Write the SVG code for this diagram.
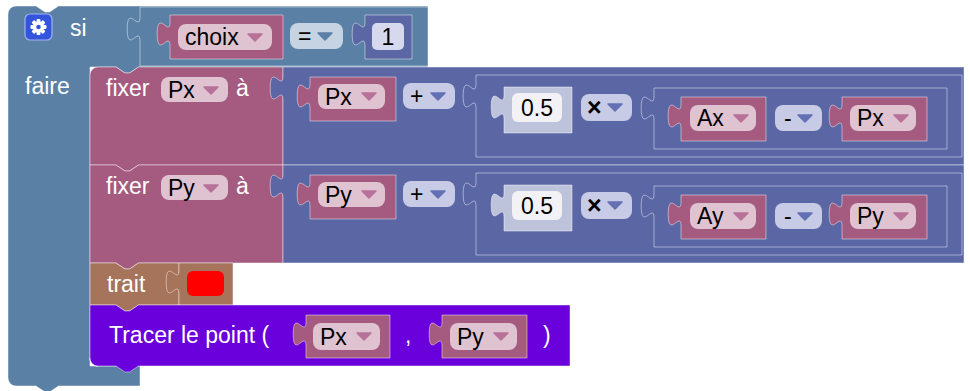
<svg xmlns="http://www.w3.org/2000/svg" width="970" height="391" viewBox="0 0 970 391">
<style>
.lg{fill:#5b80a5}.vr{fill:#a55b80}.mt{fill:#5b67a5}.sh{fill:#bec3dc}.br{fill:#a5745b}.pu{fill:#6a00dc}
.hl{stroke:#ffffff;stroke-opacity:.45;stroke-width:1}
.lbl{font-family:"Liberation Sans",Arial,sans-serif;font-size:23px;fill:#ffffff}
.ft{font-family:"Liberation Sans",Arial,sans-serif;font-size:23px;fill:#000000}
.mx{font-size:25px;font-weight:bold}
.pv{fill:#e0c3d1}.pm{fill:#c7cbe6}.pl{fill:#c6d3e3}.nf{fill:#d6d9ee}.sf{fill:#f2f2f6}
.av{fill:#b8729a;stroke:#b8729a}.am{fill:#6470b4;stroke:#6470b4}.al{fill:#5b80a5;stroke:#5b80a5}
.ar{stroke-width:1.5;stroke-linejoin:round}
</style>
<defs>
<polygon id="arr" points="0,0 14,0 7,7"/>
</defs>
<g id="connectors"></g>

<g id="si">
<path class="lg hl" d="M8,14 A8,8 0 0 1 16,6 H36 l9,6 h4.5 l9,-6 H428 V67 H138.5 l-9,6 h-4.5 l-9,-6 H90 V366 H140 V386 H58.5 l-9,6 h-4.5 l-9,-6 H16 A8,8 0 0 1 8,378 Z"/>
<rect x="25" y="14" width="27" height="26" rx="5" fill="#3355dd" stroke="#9fb2f2" stroke-width="1.2"/>
<g transform="translate(38.5,27)" fill="#ffffff">
<rect x="-1.9" y="-8" width="3.8" height="16" rx="0.8"/>
<rect x="-1.9" y="-8" width="3.8" height="16" rx="0.8" transform="rotate(45)"/>
<rect x="-1.9" y="-8" width="3.8" height="16" rx="0.8" transform="rotate(90)"/>
<rect x="-1.9" y="-8" width="3.8" height="16" rx="0.8" transform="rotate(135)"/>
<circle r="5.8"/>
<circle r="2.3" fill="#3355dd"/>
</g>
<text class="lbl" x="70" y="36">si</text>
<text class="lbl" x="25" y="94">faire</text>
<path d="M90,358 A8,8 0 0 0 98,366" fill="none" stroke="#ffffff" stroke-opacity=".8" stroke-width="1.5"/>
</g>

<g id="compare">
<path class="lg hl" d="M140,7 H428 V66 H140 V41 c0,-16 -12.8,13.6 -12.8,-12 s12.8,4 12.8,-12 Z"/>
<rect class="pl" x="290" y="23" width="53" height="26" rx="8"/>
<text class="ft" x="298" y="44">=</text>
<use href="#arr" x="318" y="33" class="al ar"/>
</g>
<g id="choix">
<path class="vr hl" d="M170,15 H283 V59 H170 V46 c0,-16 -12.8,13.6 -12.8,-12 s12.8,4 12.8,-12 Z"/>
<rect class="pv" x="178" y="24" width="94" height="26" rx="8"/>
<text class="ft" x="185" y="45">choix</text>
<use href="#arr" x="248" y="34" class="av ar"/>
</g>
<g id="num1">
<path class="mt hl" d="M365,15 H412 V59 H365 V46 c0,-16 -12.8,13.6 -12.8,-12 s12.8,4 12.8,-12 Z"/>
<rect class="nf" x="372" y="23" width="32" height="27" rx="5"/>
<text class="ft" x="388" y="45" text-anchor="middle">1</text>
</g>

<g id="fixerPx">
<path class="vr hl" d="M90,75 A8,8 0 0 1 98,67 H116 l9,6 h4.5 l9,-6 H283 V165 H138.5 l-9,6 h-4.5 l-9,-6 H90 Z"/>
<text class="lbl" x="106" y="96">fixer</text>
<rect class="pv" x="161" y="77" width="67" height="25" rx="8"/>
<text class="ft" x="168" y="98">Px</text>
<use href="#arr" x="204" y="87" class="av ar"/>
<text class="lbl" x="236" y="96">à</text>
</g>
<g id="addPx">
<path class="mt hl" d="M283,67 H964 V165 H283 V100 c0,-16 -12.8,13.6 -12.8,-12 s12.8,4 12.8,-12 Z"/>
<rect class="pm" x="403" y="83" width="52" height="26" rx="8"/>
<text class="ft" x="410" y="104">+</text>
<use href="#arr" x="431" y="93" class="am ar"/>
</g>
<g id="getPx1">
<path class="vr hl" d="M310,77 H396 V121 H310 V108 c0,-16 -12.8,13.6 -12.8,-12 s12.8,4 12.8,-12 Z"/>
<rect class="pv" x="318" y="84" width="67" height="25" rx="8"/>
<text class="ft" x="325" y="105">Px</text>
<use href="#arr" x="362" y="93" class="av ar"/>
</g>
<g id="mulPx">
<path class="mt hl" d="M476,75 H962 V157 H476 V108 c0,-16 -12.8,13.6 -12.8,-12 s12.8,4 12.8,-12 Z"/>
<rect class="pm" x="581" y="94" width="51" height="27" rx="8"/>
<text class="ft mx" x="587" y="116">×</text>
<use href="#arr" x="608" y="104" class="am ar"/>
</g>
<g id="halfPx">
<path class="sh hl" d="M504,87 H572 V133 H504 V119 c0,-16 -12.8,13.6 -12.8,-12 s12.8,4 12.8,-12 Z"/>
<rect class="sf" x="512" y="93" width="50" height="29" rx="6"/>
<text class="ft" x="537" y="116" text-anchor="middle">0.5</text>
</g>
<g id="subPx">
<path class="mt hl" d="M654,88 H947 V149 H654 V120 c0,-16 -12.8,13.6 -12.8,-12 s12.8,4 12.8,-12 Z"/>
<rect class="pm" x="775" y="105" width="47" height="26" rx="8"/>
<text class="ft" x="784" y="126">-</text>
<use href="#arr" x="798" y="115" class="am ar"/>
</g>
<g id="getAx">
<path class="vr hl" d="M681,97 H766 V141 H681 V128 c0,-16 -12.8,13.6 -12.8,-12 s12.8,4 12.8,-12 Z"/>
<rect class="pv" x="690" y="105" width="66" height="26" rx="8"/>
<text class="ft" x="697" y="126">Ax</text>
<use href="#arr" x="734" y="115" class="av ar"/>
</g>
<g id="getPx2">
<path class="vr hl" d="M842,97 H927 V141 H842 V128 c0,-16 -12.8,13.6 -12.8,-12 s12.8,4 12.8,-12 Z"/>
<rect class="pv" x="850" y="105" width="66" height="26" rx="8"/>
<text class="ft" x="857" y="126">Px</text>
<use href="#arr" x="894" y="115" class="av ar"/>
</g>

<g id="fixerPy">
<path class="vr hl" d="M90,165 H116 l9,6 h4.5 l9,-6 H283 V263 H138.5 l-9,6 h-4.5 l-9,-6 H90 Z"/>
<text class="lbl" x="106" y="194">fixer</text>
<rect class="pv" x="161" y="175" width="67" height="25" rx="8"/>
<text class="ft" x="168" y="196">Py</text>
<use href="#arr" x="204" y="185" class="av ar"/>
<text class="lbl" x="236" y="194">à</text>
</g>
<g id="addPy">
<path class="mt hl" d="M283,165 H964 V263 H283 V198 c0,-16 -12.8,13.6 -12.8,-12 s12.8,4 12.8,-12 Z"/>
<rect class="pm" x="403" y="181" width="52" height="26" rx="8"/>
<text class="ft" x="410" y="202">+</text>
<use href="#arr" x="431" y="191" class="am ar"/>
</g>
<g id="getPy1">
<path class="vr hl" d="M310,175 H396 V219 H310 V206 c0,-16 -12.8,13.6 -12.8,-12 s12.8,4 12.8,-12 Z"/>
<rect class="pv" x="318" y="182" width="67" height="25" rx="8"/>
<text class="ft" x="325" y="203">Py</text>
<use href="#arr" x="362" y="191" class="av ar"/>
</g>
<g id="mulPy">
<path class="mt hl" d="M476,173 H962 V255 H476 V206 c0,-16 -12.8,13.6 -12.8,-12 s12.8,4 12.8,-12 Z"/>
<rect class="pm" x="581" y="192" width="51" height="27" rx="8"/>
<text class="ft mx" x="587" y="214">×</text>
<use href="#arr" x="608" y="202" class="am ar"/>
</g>
<g id="halfPy">
<path class="sh hl" d="M504,185 H572 V231 H504 V217 c0,-16 -12.8,13.6 -12.8,-12 s12.8,4 12.8,-12 Z"/>
<rect class="sf" x="512" y="191" width="50" height="29" rx="6"/>
<text class="ft" x="537" y="214" text-anchor="middle">0.5</text>
</g>
<g id="subPy">
<path class="mt hl" d="M654,186 H947 V247 H654 V218 c0,-16 -12.8,13.6 -12.8,-12 s12.8,4 12.8,-12 Z"/>
<rect class="pm" x="775" y="203" width="47" height="26" rx="8"/>
<text class="ft" x="784" y="224">-</text>
<use href="#arr" x="798" y="213" class="am ar"/>
</g>
<g id="getAy">
<path class="vr hl" d="M681,195 H766 V239 H681 V226 c0,-16 -12.8,13.6 -12.8,-12 s12.8,4 12.8,-12 Z"/>
<rect class="pv" x="690" y="203" width="66" height="26" rx="8"/>
<text class="ft" x="697" y="224">Ay</text>
<use href="#arr" x="734" y="213" class="av ar"/>
</g>
<g id="getPy2">
<path class="vr hl" d="M842,195 H927 V239 H842 V226 c0,-16 -12.8,13.6 -12.8,-12 s12.8,4 12.8,-12 Z"/>
<rect class="pv" x="850" y="203" width="66" height="26" rx="8"/>
<text class="ft" x="857" y="224">Py</text>
<use href="#arr" x="894" y="213" class="av ar"/>
</g>

<g id="trait">
<path class="br hl" d="M90,263 H116 l9,6 h4.5 l9,-6 H179 V305 H138.5 l-9,6 h-4.5 l-9,-6 H90 Z"/>
<text class="lbl" x="107" y="292">trait</text>
</g>
<g id="colour">
<path class="br hl" d="M179,263 H233 V305 H179 V294 c0,-16 -12.8,13.6 -12.8,-12 s12.8,4 12.8,-12 Z"/>
<rect x="187" y="271" width="37" height="25" rx="6" fill="#ff0000"/>
</g>

<g id="tracer">
<path class="pu hl" d="M90,305 H116 l9,6 h4.5 l9,-6 H570 V366 H138.5 l-9,6 h-4.5 l-9,-6 H98 A8,8 0 0 1 90,358 Z"/>
<text class="lbl" x="109" y="343">Tracer le point (</text>
<text class="lbl" x="405" y="343">,</text>
<text class="lbl" x="543" y="343">)</text>
</g>
<g id="tracerPx">
<path class="vr hl" d="M306,315 H390 V358 H306 V346 c0,-16 -12.8,13.6 -12.8,-12 s12.8,4 12.8,-12 Z"/>
<rect class="pv" x="313" y="323" width="67" height="27" rx="8"/>
<text class="ft" x="320" y="345">Px</text>
<use href="#arr" x="357" y="333" class="av ar"/>
</g>
<g id="tracerPy">
<path class="vr hl" d="M442,315 H527 V358 H442 V346 c0,-16 -12.8,13.6 -12.8,-12 s12.8,4 12.8,-12 Z"/>
<rect class="pv" x="450" y="323" width="67" height="27" rx="8"/>
<text class="ft" x="457" y="345">Py</text>
<use href="#arr" x="494" y="333" class="av ar"/>
</g>
</svg>
